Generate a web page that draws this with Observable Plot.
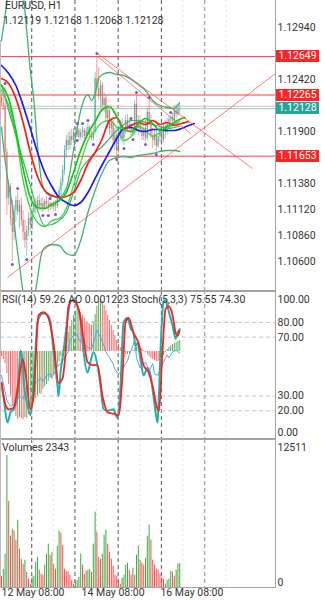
<!DOCTYPE html>
<html>
<head>
<meta charset="utf-8">
<script src="https://cdn.jsdelivr.net/npm/d3@7"></script>
<script src="https://cdn.jsdelivr.net/npm/@observablehq/plot@0.6"></script>
<style>
  body { margin: 0; background: #fff; }
  #chart { position: relative; width: 325px; height: 600px; overflow: hidden;
           font-family: Roboto, "Noto Sans", sans-serif; color: #333; }
  .pane { position: absolute; left: 0; }
  .lbl { position: absolute; font-size: 10.5px; white-space: nowrap; line-height: 12px; color: #333; }
  .box { position: absolute; left: 276px; width: 43px; height: 12px; line-height: 12px;
         color: #fff; font-size: 10.5px; text-align: center; }
  .line { position: absolute; background: #a3a3a3; }
</style>
</head>
<body>
<div id="chart"></div>
<script>
// ---- EURUSD H1 bars (bar index 0..99) ----
const openP = [1.1224,1.1218,1.1215,1.1169,1.1123,1.1135,1.1103,1.1089,1.1111,1.1121,
  1.1109,1.1116,1.1101,1.1089,1.1081,1.1091,1.1103,1.1096,1.1109,1.1116,
  1.1113,1.1121,1.1115,1.1118,1.1113,1.1120,1.1117,1.1115,1.1118,1.1114,
  1.1117,1.1115,1.1123,1.1131,1.1139,1.1151,1.1171,1.1181,1.1176,1.1185,
  1.1181,1.1189,1.1186,1.1191,1.1184,1.1189,1.1191,1.1185,1.1190,1.1194,
  1.1186,1.1183,1.1189,1.1243,1.1233,1.1225,1.1236,1.1216,1.1223,1.1203,
  1.1211,1.1193,1.1199,1.1181,1.1186,1.1171,1.1189,1.1196,1.1183,1.1191,
  1.1201,1.1193,1.1197,1.1191,1.1188,1.1217,1.1193,1.1201,1.1191,1.1185,
  1.1193,1.1183,1.1209,1.1201,1.1186,1.1181,1.1187,1.1175,1.1185,1.1191,
  1.1181,1.1195,1.1189,1.1199,1.1202,1.1204,1.1200,1.1211,1.1207,1.12119];
const highP = [1.1228,1.1226,1.1235,1.1173,1.1141,1.1138,1.1121,1.1116,1.1125,1.1130,
  1.1121,1.1123,1.1111,1.1101,1.1095,1.1109,1.1111,1.1113,1.1121,1.1123,
  1.1125,1.1127,1.1123,1.1124,1.1122,1.1125,1.1122,1.1120,1.1119,1.1120,
  1.1121,1.1126,1.1135,1.1143,1.1156,1.1176,1.1186,1.1189,1.1191,1.1192,
  1.1193,1.1194,1.1195,1.1193,1.1192,1.1195,1.1193,1.1194,1.1198,1.1196,
  1.1191,1.1193,1.1249,1.12649,1.1254,1.1241,1.1239,1.1229,1.1226,1.1216,
  1.1213,1.1203,1.1201,1.1193,1.1191,1.1193,1.1201,1.1203,1.1193,1.1206,
  1.1207,1.1203,1.1200,1.1197,1.1221,1.1226,1.1206,1.1205,1.1199,1.1196,
  1.1201,1.1213,1.1221,1.1206,1.1193,1.1191,1.1191,1.1189,1.1196,1.1195,
  1.1199,1.1201,1.1203,1.1205,1.1206,1.1208,1.1216,1.1217,1.1218,1.12168];
const lowP = [1.1215,1.1211,1.1161,1.1106,1.1116,1.1096,1.1060,1.1081,1.1099,1.1106,
  1.1093,1.1095,1.1081,1.1073,1.1065,1.1085,1.1089,1.1091,1.1103,1.1107,
  1.1109,1.1111,1.1110,1.1109,1.1111,1.1113,1.1109,1.1111,1.1112,1.1111,
  1.1110,1.1113,1.1119,1.1126,1.1135,1.1146,1.1163,1.1171,1.1171,1.1176,
  1.1178,1.1181,1.1184,1.1181,1.1181,1.1183,1.1181,1.1182,1.1187,1.1183,
  1.1181,1.1180,1.1186,1.1226,1.1221,1.1213,1.1211,1.1209,1.1199,1.1193,
  1.1186,1.1183,1.1176,1.1171,1.1165,1.1168,1.1181,1.1179,1.1176,1.1187,
  1.1189,1.1188,1.1186,1.1185,1.1186,1.1189,1.1186,1.1188,1.1181,1.1181,
  1.1180,1.1181,1.1196,1.1183,1.1173,1.1176,1.1170,1.1173,1.1179,1.1176,
  1.1178,1.1183,1.1186,1.1193,1.1197,1.1196,1.1197,1.1203,1.1205,1.12068];
const closeP = [1.1218,1.1215,1.1169,1.1123,1.1135,1.1103,1.1089,1.1111,1.1121,1.1109,
  1.1116,1.1101,1.1089,1.1081,1.1091,1.1103,1.1096,1.1109,1.1116,1.1113,
  1.1121,1.1115,1.1118,1.1113,1.1120,1.1117,1.1115,1.1118,1.1114,1.1117,
  1.1115,1.1123,1.1131,1.1139,1.1151,1.1171,1.1181,1.1176,1.1185,1.1181,
  1.1189,1.1186,1.1191,1.1184,1.1189,1.1191,1.1185,1.1190,1.1194,1.1186,
  1.1183,1.1189,1.1243,1.1233,1.1225,1.1236,1.1216,1.1223,1.1203,1.1211,
  1.1193,1.1199,1.1181,1.1186,1.1171,1.1189,1.1196,1.1183,1.1191,1.1201,
  1.1193,1.1197,1.1191,1.1188,1.1217,1.1193,1.1201,1.1191,1.1185,1.1193,
  1.1183,1.1209,1.1201,1.1186,1.1181,1.1187,1.1175,1.1185,1.1191,1.1181,
  1.1195,1.1189,1.1199,1.1202,1.1204,1.1200,1.1211,1.1207,1.12119,1.12128];
const volumes = [1100,1760,3210,12511,8180,4900,5560,5380,4530,6410,
  3680,2730,2260,2640,1510,850,380,1040,1130,2450,
  2920,1700,1320,1230,2170,3210,4150,3110,3390,2260,
  1790,3960,5380,5190,4050,1790,1600,1510,1230,750,
  380,570,750,1040,3210,2170,1320,1600,1700,1790,
  1510,4150,7170,5280,2920,2730,3210,5000,5470,4150,
  3390,2730,2070,1230,1130,750,380,940,1230,2170,
  2360,1700,1230,1890,1230,3110,3960,2640,2360,2170,
  2830,4900,5940,4530,2640,2170,1790,1700,1320,1040,
  850,380,750,850,1600,1510,1130,1700,2300,2343];
const aoVals = [-0.000556,-0.000890,-0.001334,-0.002446,-0.003670,-0.004893,-0.006005,-0.006672,-0.007228,-0.007562,
  -0.007339,-0.007450,-0.007562,-0.007339,-0.007450,-0.007006,-0.006450,-0.006005,-0.005560,-0.005226,
  -0.004893,-0.004670,-0.004782,-0.004226,-0.003892,-0.003670,-0.003336,-0.003002,-0.003114,-0.002669,
  -0.002224,-0.001668,-0.001112,-0.000556,0.000111,0.000778,0.001446,0.002113,0.002780,0.003447,
  0.004003,0.004448,0.004782,0.004670,0.004337,0.004003,0.003670,0.003336,0.003114,0.003002,
  0.002891,0.003336,0.004114,0.005004,0.005560,0.005782,0.005560,0.005115,0.004559,0.004003,
  0.003447,0.002891,0.002335,0.001779,0.001223,0.000778,0.000445,0.000111,-0.000111,-0.000334,
  -0.000334,-0.000222,0.000000,0.000111,0.000334,0.000445,0.000556,0.000445,0.000334,0.000111,
  -0.000111,-0.000334,-0.000556,-0.000778,-0.000890,-0.001001,-0.001112,-0.001112,-0.001001,-0.000778,
  -0.000445,-0.000111,0.000222,0.000445,0.000667,0.000778,0.000890,0.001001,0.001112,0.001223];

// ---- overlays: [bar index, price] ----
const bbUpperPts = [[0,1.1281],[2,1.1306],[4,1.1331],[8,1.1341],[12,1.1326],[14,1.1291],[16,1.1251],[18,1.1221],[20,1.1176],[22,1.1143],[24,1.1131],[28,1.1125],[32,1.1125],[36,1.1133],[38,1.1149],[40,1.1171],[42,1.1193],[44,1.1211],[48,1.1227],[50,1.1221],[52,1.1228],[54,1.1243],[56,1.1247],[60,1.1249],[64,1.1247],[68,1.1246],[72,1.1242],[76,1.1237],[80,1.1231],[84,1.1221],[88,1.1216],[92,1.1214],[96,1.1213],[99,1.1219]];
const bbMiddlePts = [[0,1.1237],[4,1.1211],[8,1.1186],[12,1.1161],[16,1.1136],[20,1.1111],[24,1.1096],[28,1.1097],[32,1.1101],[36,1.1109],[40,1.1129],[44,1.1151],[48,1.1161],[52,1.1169],[56,1.1175],[60,1.1183],[64,1.1191],[68,1.1197],[72,1.1201],[76,1.1201],[80,1.1199],[84,1.1197],[88,1.1195],[92,1.1193],[96,1.1194],[99,1.1195]];
const bbLowerPts = [[0,1.1194],[2,1.1161],[4,1.1136],[6,1.1116],[8,1.1083],[10,1.1056],[12,1.1029],[14,1.1011],[16,1.1009],[18,1.1021],[20,1.1043],[22,1.1066],[24,1.1074],[28,1.1077],[32,1.1076],[36,1.1068],[40,1.1066],[44,1.1081],[48,1.1109],[52,1.1131],[56,1.1149],[60,1.1161],[64,1.1164],[68,1.1165],[72,1.1164],[76,1.1166],[80,1.1167],[84,1.1168],[88,1.1170],[92,1.1171],[96,1.1171],[99,1.1170]];
const jawPts = [[0,1.1256],[4,1.1248],[8,1.1236],[12,1.1216],[16,1.1193],[20,1.1169],[24,1.1149],[28,1.1135],[32,1.1124],[36,1.1119],[40,1.1116],[44,1.1119],[48,1.1129],[52,1.1143],[56,1.1157],[60,1.1170],[64,1.1183],[68,1.1193],[72,1.1194],[76,1.1191],[80,1.1190],[84,1.1192],[88,1.1192],[92,1.1191],[96,1.1191],[100,1.1193],[104,1.1196],[107,1.1198]];
const teethPts = [[0,1.1243],[4,1.1238],[8,1.1223],[12,1.1199],[16,1.1169],[20,1.1145],[24,1.1131],[28,1.1126],[32,1.1124],[36,1.1125],[40,1.1129],[44,1.1141],[48,1.1158],[52,1.1169],[56,1.1183],[60,1.1201],[64,1.1204],[68,1.1193],[72,1.1196],[76,1.1199],[80,1.1197],[84,1.1201],[88,1.1197],[92,1.1199],[96,1.1196],[100,1.1198],[104,1.1200]];
const lipsPts = [[0,1.1236],[4,1.1223],[8,1.1191],[12,1.1153],[16,1.1124],[20,1.1114],[24,1.1113],[28,1.1117],[32,1.1121],[36,1.1129],[40,1.1149],[44,1.1171],[48,1.1188],[52,1.1200],[56,1.1212],[60,1.1215],[64,1.1205],[68,1.1192],[72,1.1190],[76,1.1198],[80,1.1203],[84,1.1198],[88,1.1191],[92,1.1195],[96,1.1199],[100,1.1203],[102,1.1204]];
const fastMaPts = [[0,1.1231],[4,1.1216],[8,1.1186],[12,1.1141],[16,1.1113],[20,1.1099],[24,1.1095],[28,1.1101],[32,1.1103],[36,1.1113],[40,1.1136],[44,1.1159],[48,1.1181],[52,1.1191],[56,1.1199],[60,1.1201],[64,1.1194],[68,1.1181],[72,1.1185],[76,1.1195],[80,1.1191],[84,1.1185],[88,1.1189],[92,1.1193],[96,1.1197],[99,1.1200]];
const fractalUp = [[2,1.1238],[9,1.1133],[27,1.1123],[42,1.1198],[45,1.1198],[48,1.1201],[53,1.1268],[72,1.1203],[75,1.1229],[82,1.1224],[94,1.1209]];
const fractalDown = [[6,1.1057],[14,1.1062],[23,1.1106],[26,1.1106],[30,1.1107],[42,1.1181],[51,1.1177],[64,1.1162],[68,1.1173],[73,1.1182],[80,1.1177],[86,1.1167]];
const trendLines = [
  {i1: 3.3, p1: 1.1044, i2: 152.2, p2: 1.1248},
  {i1: 53.3, p1: 1.1268, i2: 139.4, p2: 1.1153},
  {i1: 53.3, p1: 1.1265, i2: 105, p2: 1.1188}
];
const levels = [1.12649, 1.12265, 1.11653];
const bidPrice = 1.12128, askPrice = 1.12152;

// ---- oscillators: [bar index, value] ----
const rsiPts = [[0,44],[2,33],[3,27],[5,23],[7,24],[8,26],[10,30],[12,28],[13,32],[15,35],[17,34],[18,38],[20,40],[22,42],[23,40],[25,44],[27,45],[28,43],[30,47],[31,50],[33,52],[35,56],[37,60],[38,68],[40,71],[42,72],[43,68],[45,67],[47,64],[48,63],[50,62],[52,70],[53,75],[54,72],[55,70],[57,64],[58,60],[60,56],[62,52],[63,48],[65,45],[66,46],[68,50],[70,54],[71,58],[73,64],[74,68],[75,56],[77,49],[79,52],[80,53],[82,47],[84,52],[85,45],[87,44],[88,48],[90,53],[92,58],[93,56],[95,60],[97,61],[99,59.26]];
const stochMainPts = [[0,39],[1.1,30],[3.3,12],[5,19],[6.7,21],[8.9,30],[10.6,61],[11.7,53],[12.2,42],[14.4,24],[16.1,17],[17.8,37],[20,80],[21.7,85],[23.3,86],[25.6,85],[27.2,80],[28.9,60],[31.1,37],[31.7,30],[32.8,46],[34.4,60],[36.7,83],[38.3,94],[40,95],[42.2,91],[43.9,83],[45.6,60],[47.8,46],[49.4,53],[51.1,60],[53.3,51],[55,37],[56.7,21],[58.9,20],[62.2,21],[64.4,15],[66.1,37],[67.8,80],[70,83],[71.7,76],[73.3,73],[74.4,64],[75.6,66],[77.2,55],[78.9,44],[81.1,49],[82.8,44],[84.4,30],[85.6,19],[86.7,12],[87.2,23],[88.3,60],[90,94],[91.1,95],[92.8,88],[95,78],[96.7,69],[97.8,73],[99,75.55]];
const stochSignalPts = [[0,39],[2.2,24],[3.9,21],[6.7,22],[9.4,39],[11.7,55],[13.3,46],[16.1,21],[17.8,30],[20.6,85],[23.3,87],[26.1,83],[28.9,66],[31.7,39],[33.9,42],[35.6,60],[37.2,91],[39.4,95],[41.1,94],[42.8,89],[45.6,69],[47.8,53],[50.6,51],[53.3,51],[56.1,30],[58.9,19],[62.2,18],[65,17],[67.2,44],[68.9,80],[70.6,83],[73.3,73],[76.1,66],[78.9,51],[81.7,46],[83.9,37],[86.7,21],[87.5,20],[89.4,60],[91.1,89],[92.8,91],[95,85],[96.7,73],[97.8,71],[99,74.3]];

// ---- axes ----
const priceTicks = [1.12940, 1.12420, 1.11900, 1.11380, 1.11120, 1.10860, 1.10600];
const oscTicks = [100, 80, 70, 30, 20, 0];
const oscLevels = [80, 70, 30, 20];
const volTicks = [12511, 0];
const daySeps = [16.8, 40.8, 64.8, 88.8];
const futureSeps = [112.8];
const midGrid = [28.8, 52.8, 76.8, 100.8, 124.8];
const dateTicks = [{i: 0, label: "12 May 08:00"}, {i: 44.5, label: "14 May 08:00"}, {i: 88.3, label: "16 May 08:00"}];

// ---- layout ----
const W = 325, AXIS_X = 275;
const FONT = 'Roboto, "Noto Sans", sans-serif';
const bull = "#26a69a", bear = "#ef5350";
const xOpt = {domain: [-0.556, 152.2], axis: null};
const baseStyle = {fontFamily: FONT, fontSize: "10px", color: "#333", background: "transparent", overflow: "visible"};
const chart = document.getElementById("chart");

const bars = openP.map((o, i) => ({
  i, open: o, high: highP[i], low: lowP[i], close: closeP[i],
  vol: volumes[i], ao: aoVals[i],
  volUp: i > 0 && volumes[i] > volumes[i - 1],
  aoUp: i > 0 && aoVals[i] > aoVals[i - 1]
}));

function place(svg, top) {
  const d = document.createElement("div");
  d.className = "pane";
  d.style.top = top + "px";
  d.appendChild(svg);
  chart.appendChild(d);
}
function separators() {
  return [
    Plot.ruleX(midGrid, {stroke: "#e2e2e2", strokeDasharray: "2,3"}),
    Plot.ruleX(daySeps, {stroke: "#555", strokeDasharray: "4,3"}),
    Plot.ruleX(futureSeps, {stroke: "#aaa", strokeDasharray: "4,3", strokeWidth: 1.5})
  ];
}
const pt = {x: d => d[0], y: d => d[1]};

// ---- price pane ----
const mainPlot = Plot.plot({
  width: W, height: 290, marginLeft: 0, marginRight: W - AXIS_X, marginTop: 0, marginBottom: 0,
  x: xOpt,
  y: {domain: [1.1031, 1.1321], range: [290, 0], axis: null},
  style: baseStyle,
  marks: [
    ...separators(),
    Plot.ruleY(levels, {stroke: "#ff3b3b", strokeWidth: 1}),
    Plot.ruleY([askPrice], {stroke: "#f6b3b3", strokeWidth: 1}),
    Plot.ruleY([bidPrice], {stroke: "#86cfc7", strokeWidth: 1}),
    Plot.ruleX(bars, {x: "i", y1: "low", y2: "high", stroke: d => d.close >= d.open ? bull : bear, strokeOpacity: 0.55, strokeWidth: 1}),
    Plot.ruleX(bars, {x: "i", y1: "open", y2: "close", stroke: d => d.close >= d.open ? bull : bear, strokeOpacity: 0.7, strokeWidth: 1.2}),
    Plot.line(bbUpperPts, {...pt, stroke: "#3cb371", strokeWidth: 1.3, curve: "monotone-x", clip: true}),
    Plot.line(bbMiddlePts, {...pt, stroke: "#3cb371", strokeWidth: 1.2, curve: "monotone-x", clip: true}),
    Plot.line(bbLowerPts, {...pt, stroke: "#3cb371", strokeWidth: 1.3, curve: "monotone-x", clip: true}),
    Plot.line(fastMaPts, {...pt, stroke: "#3ad83a", strokeWidth: 1.3, curve: "monotone-x"}),
    Plot.line(jawPts, {...pt, stroke: "#1a1aff", strokeWidth: 1.7, curve: "monotone-x"}),
    Plot.line(teethPts, {...pt, stroke: "#ff1a1a", strokeWidth: 1.7, curve: "monotone-x"}),
    Plot.line(lipsPts, {...pt, stroke: "#19c419", strokeWidth: 1.7, curve: "monotone-x"}),
    Plot.link(trendLines, {x1: "i1", y1: "p1", x2: "i2", y2: "p2", stroke: "#ff5050", strokeWidth: 0.9, strokeOpacity: 0.85, clip: true}),
    Plot.dot(fractalUp, {...pt, r: 1.5, fill: "#7e57c2", stroke: "none"}),
    Plot.dot(fractalDown, {...pt, r: 1.5, fill: "#7e57c2", stroke: "none"}),
    Plot.text(priceTicks, {y: d => d, text: d => d.toFixed(5), frameAnchor: "right", textAnchor: "start", dx: 2, fill: "#333", fontSize: 10.5})
  ]
});
place(mainPlot, 0);

// value boxes on the price axis
const yPrice = mainPlot.scale("y");
function valueBox(p, color) {
  const b = document.createElement("div");
  b.className = "box";
  b.style.background = color;
  b.style.top = (yPrice.apply(p) - 6) + "px";
  b.textContent = p.toFixed(5);
  chart.appendChild(b);
}
levels.forEach(p => valueBox(p, "#ff2424"));
valueBox(bidPrice, "#26a69a");

// ---- oscillator pane: AO histogram under RSI + Stochastic ----
const aoPlot = Plot.plot({
  width: W, height: 149, marginLeft: 0, marginRight: W - AXIS_X, marginTop: 0, marginBottom: 0,
  x: xOpt,
  y: {domain: [-0.01, 0.0065], range: [151, 2.5], axis: null},
  style: baseStyle,
  marks: [
    ...separators(),
    Plot.ruleX(bars, {x: "i", y1: 0, y2: "ao", stroke: d => d.aoUp ? "#3f9f3f" : "#f25050", strokeOpacity: 0.85, strokeWidth: 1})
  ]
});
place(aoPlot, 290);

const oscPlot = Plot.plot({
  width: W, height: 149, marginLeft: 0, marginRight: W - AXIS_X, marginTop: 0, marginBottom: 0,
  x: xOpt,
  y: {domain: [0, 100], range: [149.7, 2.5], axis: null},
  style: baseStyle,
  marks: [
    Plot.ruleY(oscLevels, {stroke: "#c4c4c4", strokeDasharray: "4,3"}),
    Plot.line(rsiPts, {...pt, stroke: "#5f9ff0", strokeWidth: 1}),
    Plot.line(stochMainPts, {...pt, stroke: "#20b2aa", strokeWidth: 2, curve: "monotone-x"}),
    Plot.line(stochSignalPts, {...pt, stroke: "#ff1f1f", strokeWidth: 1.8, curve: "monotone-x"}),
    Plot.text(oscTicks.filter(v => v > 0 && v < 100), {y: d => d, text: d => d.toFixed(2), frameAnchor: "right", textAnchor: "start", dx: 2, fill: "#333", fontSize: 10.5}),
    Plot.text(oscTicks.filter(v => v === 100), {y: d => d, text: d => d.toFixed(2), frameAnchor: "right", textAnchor: "start", dx: 2, dy: 6.5, fill: "#333", fontSize: 10.5}),
    Plot.text(oscTicks.filter(v => v === 0), {y: d => d, text: d => d.toFixed(2), frameAnchor: "right", textAnchor: "start", dx: 2, dy: -8, fill: "#333", fontSize: 10.5})
  ]
});
place(oscPlot, 290);

// ---- volume pane ----
const volPlot = Plot.plot({
  width: W, height: 161, marginLeft: 0, marginRight: W - AXIS_X, marginTop: 0, marginBottom: 12,
  x: xOpt,
  y: {domain: [0, 12511], range: [148.7, 16], axis: null},
  style: baseStyle,
  marks: [
    ...separators(),
    Plot.ruleX(bars, {x: "i", y1: 0, y2: "vol", stroke: d => d.volUp ? "#2e9e2e" : "#f23d3d", strokeOpacity: 0.9, strokeWidth: 1}),
    Plot.text(volTicks.filter(v => v > 0), {y: d => d, text: d => String(d), frameAnchor: "right", textAnchor: "start", dx: 2, dy: -8, fill: "#333", fontSize: 10.5}),
    Plot.text(volTicks.filter(v => v === 0), {y: d => d, text: d => String(d), frameAnchor: "right", textAnchor: "start", dx: 2, dy: -6, fill: "#333", fontSize: 10.5}),
    Plot.text(dateTicks, {x: "i", text: "label", frameAnchor: "bottom", textAnchor: "start", dy: 7, fill: "#333", fontSize: 10.5})
  ]
});
place(volPlot, 439);

// ---- frame lines ----
function frameLine(left, top, width, height, color) {
  const l = document.createElement("div");
  l.className = "line";
  Object.assign(l.style, {left: left + "px", top: top + "px", width: width + "px", height: height + "px"});
  if (color) l.style.background = color;
  chart.appendChild(l);
}
frameLine(AXIS_X, 0, 1, 588);
frameLine(0, 290, AXIS_X + 1, 2);
frameLine(0, 437.5, AXIS_X + 1, 2);
frameLine(0, 587, AXIS_X + 1, 1);
frameLine(0, 40, 1, 548, "#bdbdbd");

// ---- captions ----
function caption(text, left, top) {
  const t = document.createElement("div");
  t.className = "lbl";
  t.style.left = left + "px";
  t.style.top = top + "px";
  t.textContent = text;
  chart.appendChild(t);
}
caption("EURUSD, H1", 5, 0);
caption("1.12119 1.12168 1.12068 1.12128", 3, 15);
caption("RSI(14) 59.26 AO 0.001223 Stoch(5,3,3) 75.55 74.30", 2, 294);
caption("Volumes 2343", 2, 442);
</script>
</body>
</html>
